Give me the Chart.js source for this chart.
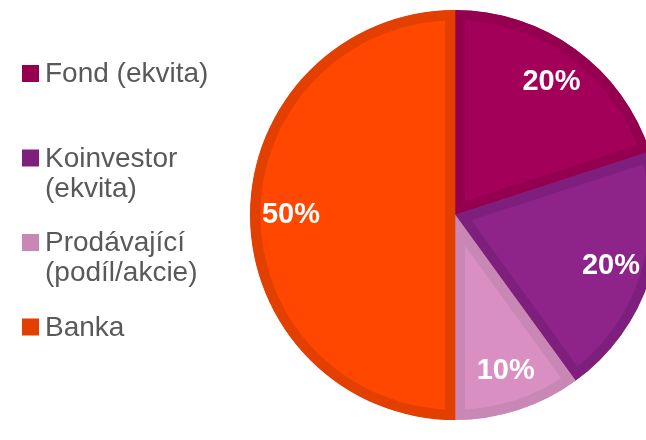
<!DOCTYPE html>
<html>
<head>
<meta charset="utf-8">
<script src="https://cdn.jsdelivr.net/npm/chart.js@4.4.0/dist/chart.umd.min.js"></script>
<style>
  html, body { margin: 0; padding: 0; background: #fff; overflow: hidden; }
  #wrap { width: 700px; height: 440px; }
</style>
</head>
<body>
<div id="wrap"><canvas id="pieChart" width="700" height="440"></canvas></div>
<script>
// Chart data
const categories = [['Fond (ekvita)'], ['Koinvestor', '(ekvita)'], ['Prodávající', '(podíl/akcie)'], ['Banka']];
const shares = [20, 20, 10, 50];
const fillColors = ['#A3005A', '#8E2389', '#DA8FC3', '#FF4700'];
const edgeColors = ['#94004F', '#7F1F7D', '#C887B4', '#E23F00'];

// Legend drawn on the left, one block per category
const sideLegend = {
  id: 'sideLegend',
  afterDraw(chart) {
    const ctx = chart.ctx;
    ctx.save();
    ctx.font = '28px "Liberation Sans"';
    ctx.textAlign = 'left';
    ctx.textBaseline = 'alphabetic';
    categories.forEach((lines, i) => {
      const base = 82 + i * 84.5;
      ctx.fillStyle = edgeColors[i];
      ctx.fillRect(22, base - 17, 17, 17);
      ctx.fillStyle = '#595959';
      lines.forEach((line, j) => ctx.fillText(line, 45, base + j * 30));
    });
    ctx.restore();
  }
};

// Percentage labels inside slices
const pctLabels = {
  id: 'pctLabels',
  afterDatasetsDraw(chart) {
    const ctx = chart.ctx;
    const meta = chart.getDatasetMeta(0);
    const total = shares.reduce((a, b) => a + b, 0);
    ctx.save();
    ctx.font = 'bold 29px "Liberation Sans"';
    ctx.fillStyle = '#fff';
    ctx.textAlign = 'center';
    ctx.textBaseline = 'middle';
    meta.data.forEach((arc, i) => {
      const p = arc.getProps(['x', 'y', 'startAngle', 'endAngle', 'outerRadius'], true);
      const mid = (p.startAngle + p.endAngle) / 2;
      const r = p.outerRadius * 0.8;
      const pct = Math.round(shares[i] / total * 100) + '%';
      ctx.fillText(pct, p.x + Math.cos(mid) * r, p.y + Math.sin(mid) * r);
    });
    ctx.restore();
  }
};

const ctx = document.getElementById('pieChart').getContext('2d');
new Chart(ctx, {
  type: 'pie',
  data: {
    labels: categories.map(l => l.join(' ')),
    datasets: [{
      data: shares,
      backgroundColor: fillColors,
      borderColor: edgeColors,
      borderWidth: 10,
      borderAlign: 'inner',
      hoverOffset: 0
    }]
  },
  options: {
    responsive: false,
    devicePixelRatio: 1,
    animation: false,
    layout: { padding: { left: 250, right: 40, top: 10, bottom: 20 } },
    plugins: {
      legend: { display: false },
      tooltip: { enabled: false }
    }
  },
  plugins: [sideLegend, pctLabels]
});
</script>
</body>
</html>
